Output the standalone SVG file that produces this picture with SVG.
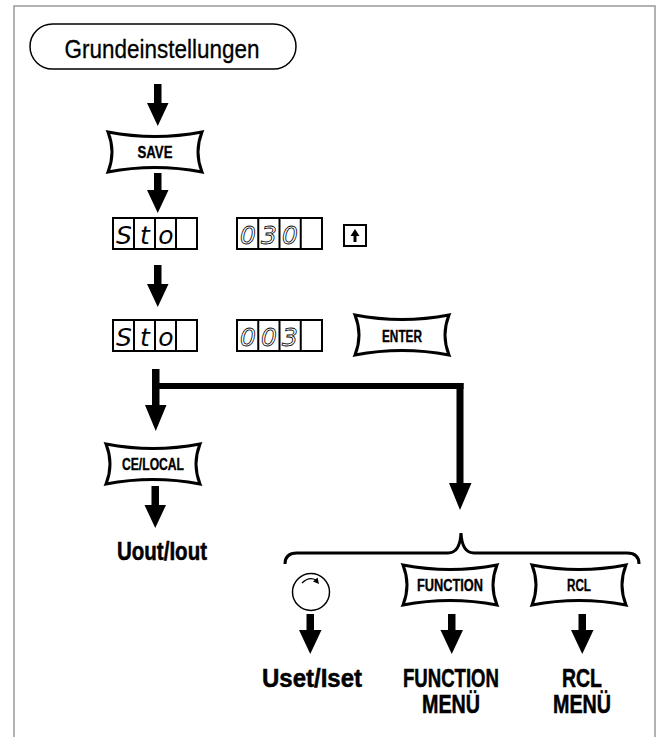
<svg xmlns="http://www.w3.org/2000/svg" width="660" height="737" viewBox="0 0 660 737">
<style>
.frame{fill:none;stroke:#999;stroke-width:1.5}
.btn{fill:#fff;stroke:#000;stroke-width:3;stroke-linejoin:miter}
.arrow{fill:#000;stroke:none}
.bt{font-family:"Liberation Sans",Arial,sans-serif;font-weight:bold;font-size:16px;text-anchor:middle;fill:#000;stroke:#000;stroke-width:0.35}
.lbl{font-family:"Liberation Sans",Arial,sans-serif;font-weight:bold;font-size:25px;text-anchor:middle;fill:#000;stroke:#000;stroke-width:0.5}
.disp{fill:#fff;stroke:#000;stroke-width:2}
.cell{stroke:#000;stroke-width:2}
.seg{font-family:"DejaVu Sans",sans-serif;font-style:oblique;font-size:25px;text-anchor:middle}
.segs{fill:#000;font-weight:200}
.segh{fill:none;stroke:#000;stroke-width:0.8}
</style>
<defs>
<path id="key" d="M0,0 Q47,9 94,0 Q86,20 94,40 Q47,31 0,40 Q8,20 0,0 Z"/>
</defs>
<rect class="frame" x="14" y="6" width="641" height="760"/>

<g id="start">
<rect x="30" y="24" width="266" height="45" rx="22.5" ry="22.5" fill="#fff" stroke="#000" stroke-width="1.5"/>
<text x="162" y="58" font-family="'Liberation Sans',Arial,sans-serif" font-size="26" text-anchor="middle" stroke="#000" stroke-width="0.3" textLength="195" lengthAdjust="spacingAndGlyphs">Grundeinstellungen</text>
</g>

<g id="save">
<use href="#key" class="btn" x="108" y="132"/>
<text class="bt" x="155" y="158" textLength="35" lengthAdjust="spacingAndGlyphs">SAVE</text>
</g>

<g id="display1">
<rect class="disp" x="113" y="218" width="84" height="31"/>
<line class="cell" x1="134" y1="218" x2="134" y2="249"/>
<line class="cell" x1="155" y1="218" x2="155" y2="249"/>
<line class="cell" x1="176" y1="218" x2="176" y2="249"/>
<text class="seg segs" x="124" y="244">S</text>
<text class="seg segs" x="145" y="244">t</text>
<text class="seg segs" x="166" y="244">o</text>
<rect class="disp" x="237" y="218" width="85" height="31"/>
<line class="cell" x1="258.25" y1="218" x2="258.25" y2="249"/>
<line class="cell" x1="279.5" y1="218" x2="279.5" y2="249"/>
<line class="cell" x1="300.75" y1="218" x2="300.75" y2="249"/>
<text class="seg segh" x="248" y="244">0</text>
<text class="seg segh" x="269" y="244">3</text>
<text class="seg segh" x="290" y="244">0</text>
</g>

<g id="upkey">
<rect x="344" y="225" width="22" height="21" fill="#fff" stroke="#000" stroke-width="2"/>
<polygon points="355,229 359.5,236 356.5,236 356.5,242 353.5,242 353.5,236 350.5,236" fill="#000"/>
</g>

<g id="display2">
<rect class="disp" x="113" y="320" width="84" height="31"/>
<line class="cell" x1="134" y1="320" x2="134" y2="351"/>
<line class="cell" x1="155" y1="320" x2="155" y2="351"/>
<line class="cell" x1="176" y1="320" x2="176" y2="351"/>
<text class="seg segs" x="124" y="346">S</text>
<text class="seg segs" x="145" y="346">t</text>
<text class="seg segs" x="166" y="346">o</text>
<rect class="disp" x="237" y="320" width="85" height="31"/>
<line class="cell" x1="258.25" y1="320" x2="258.25" y2="351"/>
<line class="cell" x1="279.5" y1="320" x2="279.5" y2="351"/>
<line class="cell" x1="300.75" y1="320" x2="300.75" y2="351"/>
<text class="seg segh" x="248" y="346">0</text>
<text class="seg segh" x="269" y="346">0</text>
<text class="seg segh" x="290" y="346">3</text>
</g>

<g id="enter">
<use href="#key" class="btn" x="355" y="315"/>
<text class="bt" x="402" y="342" textLength="40" lengthAdjust="spacingAndGlyphs">ENTER</text>
</g>

<g id="celocal">
<use href="#key" class="btn" x="106" y="444"/>
<text class="bt" x="153" y="470" textLength="62" lengthAdjust="spacingAndGlyphs">CE/LOCAL</text>
</g>

<g id="uout">
<text class="lbl" x="162" y="560" font-size="26" textLength="90" lengthAdjust="spacingAndGlyphs">Uout/Iout</text>
</g>

<g id="brace">
<path d="M285,564 Q285,553 297,553 L448,553 Q460,553 461,533 Q462,553 474,553 L627,553 Q639,553 639,564" fill="none" stroke="#000" stroke-width="3"/>
</g>

<g id="knob">
<circle cx="311" cy="592" r="18.5" fill="#fff" stroke="#000" stroke-width="1.5"/>
<path d="M302,583 Q309,576 316,580" fill="none" stroke="#000" stroke-width="1.2"/>
<polygon points="319,584 313,581.5 317.5,577.5" fill="#000"/>
</g>

<g id="function">
<use href="#key" class="btn" x="403" y="565"/>
<text class="bt" x="450" y="591" textLength="66" lengthAdjust="spacingAndGlyphs">FUNCTION</text>
</g>

<g id="rcl">
<use href="#key" class="btn" x="532" y="565"/>
<text class="bt" x="579" y="591" textLength="24" lengthAdjust="spacingAndGlyphs">RCL</text>
</g>

<g id="labels">
<text class="lbl" x="312" y="687" font-size="26" textLength="100" lengthAdjust="spacingAndGlyphs">Uset/Iset</text>
<text class="lbl" x="451" y="687" textLength="96" lengthAdjust="spacingAndGlyphs">FUNCTION</text>
<text class="lbl" x="451" y="713" textLength="58" lengthAdjust="spacingAndGlyphs">MENÜ</text>
<text class="lbl" x="582" y="687" textLength="40" lengthAdjust="spacingAndGlyphs">RCL</text>
<text class="lbl" x="582" y="713" textLength="58" lengthAdjust="spacingAndGlyphs">MENÜ</text>
</g>

<g id="connectors">
<polygon class="arrow" points="154,84 161.5,84 161.5,103 168.5,103 157.75,126 147,103 154,103"/>
<polygon class="arrow" points="154,173 161.5,173 161.5,190 168.5,190 157.75,213 147,190 154,190"/>
<polygon class="arrow" points="154,265 161.5,265 161.5,284 168.5,284 157.75,307 147,284 154,284"/>
<polygon class="arrow" points="152,369 159.5,369 159.5,383 463.5,383 463.5,389 159.5,389 159.5,405 166.5,405 155.75,431 145,405 152,405"/>
<polygon class="arrow" points="456.5,383 463.5,383 463.5,483 471.5,483 460,510 449,483 456.5,483"/>
<polygon class="arrow" points="151.5,486 159,486 159,505 166,505 155.25,528 144.5,505 151.5,505"/>
<polygon class="arrow" points="306.5,614 314,614 314,630 321.5,630 310.25,654 299,630 306.5,630"/>
<polygon class="arrow" points="448,614 455.5,614 455.5,630 463,630 451.75,654 440.5,630 448,630"/>
<polygon class="arrow" points="578.5,614 586,614 586,630 593.5,630 582.25,654 571,630 578.5,630"/>
</g>
</svg>
